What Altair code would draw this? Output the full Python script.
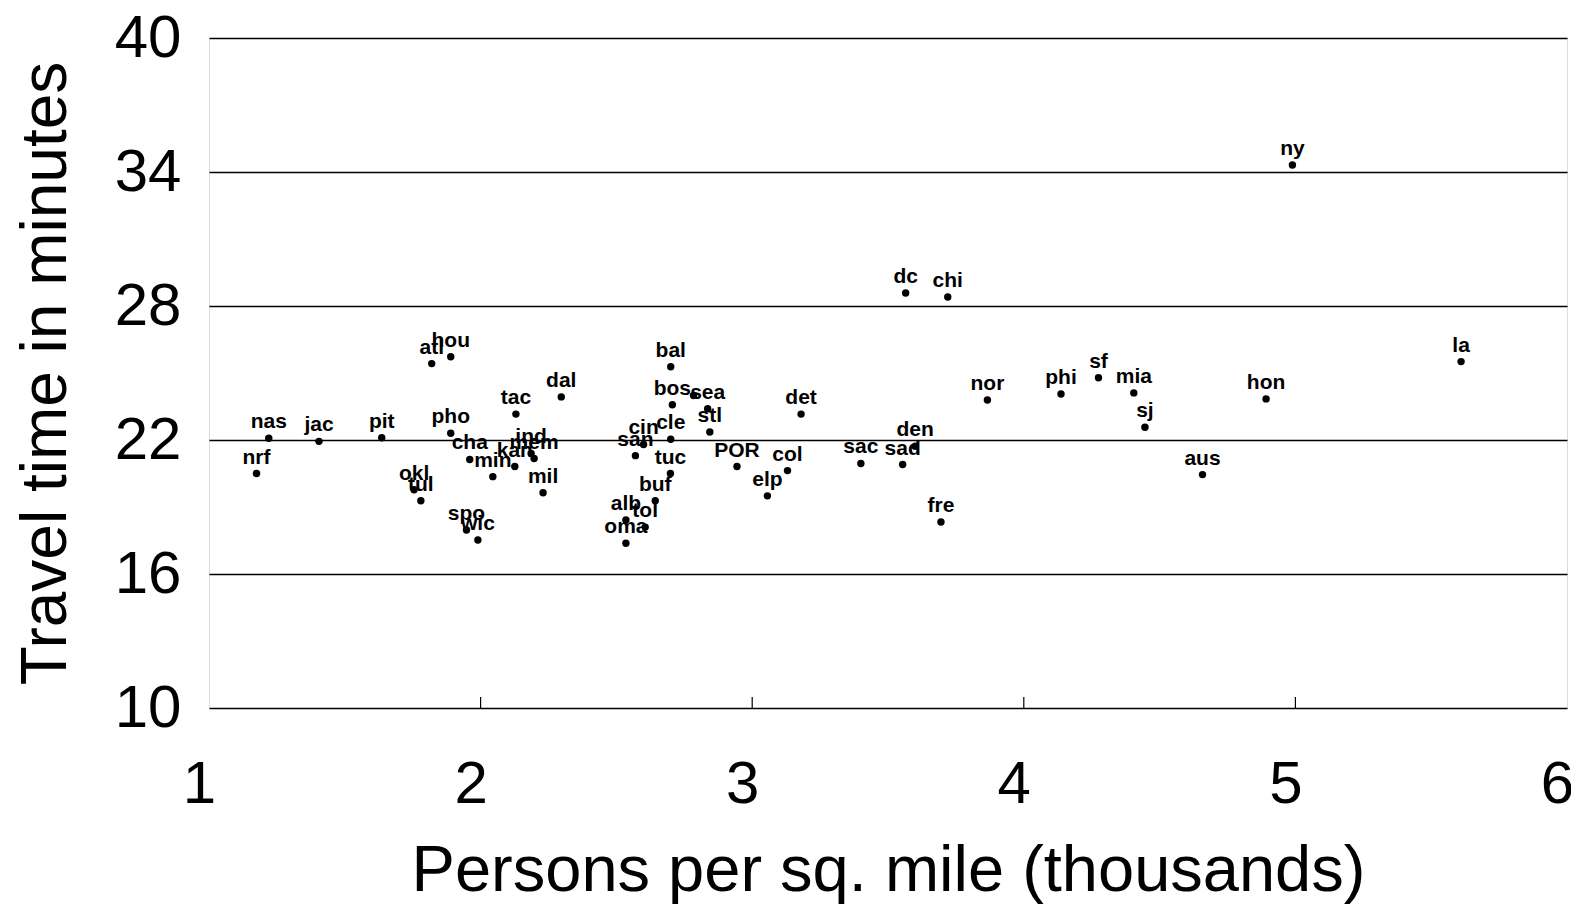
import altair as alt
import pandas as pd

cities = ["nrf", "nas", "jac", "pit", "atl", "hou", "pho", "okl", "tul", "cha",
          "spo", "wic", "min", "tac", "dal", "mil", "ind", "mem", "kan", "san",
          "cin", "cle", "bal", "bos", "", "sea", "stl", "tuc", "buf", "alb",
          "tol", "oma", "POR", "col", "elp", "det", "dc", "chi", "sac", "sad",
          "den", "fre", "nor", "phi", "sf", "mia", "sj", "aus", "hon", "ny", "la"]
density = [1.175, 1.22, 1.405, 1.636, 1.82, 1.89, 1.89, 1.755, 1.78, 1.96,
           1.948, 1.99, 2.045, 2.13, 2.297, 2.23, 2.186, 2.197, 2.126, 2.57,
           2.6, 2.70, 2.70, 2.706, 2.784, 2.836, 2.844, 2.699, 2.643, 2.535,
           2.606, 2.535, 2.944, 3.13, 3.056, 3.18, 3.565, 3.72, 3.40, 3.554,
           3.6, 3.695, 3.866, 4.137, 4.275, 4.405, 4.446, 4.658, 4.892, 4.989, 5.61]
travel = [20.5, 22.08, 21.94, 22.1, 25.42, 25.73, 22.3, 19.77, 19.28, 21.13,
          17.97, 17.52, 20.36, 23.16, 23.93, 19.64, 21.4, 21.17, 20.81, 21.3,
          21.8, 22.03, 25.28, 23.58, 23.99, 23.4, 22.36, 20.5, 19.28, 18.42,
          18.1, 17.38, 20.81, 20.63, 19.5, 23.16, 28.58, 28.4, 20.95, 20.9,
          21.72, 18.33, 23.79, 24.06, 24.79, 24.11, 22.57, 20.45, 23.84, 34.31, 25.51]

x_ticks = [1, 2, 3, 4, 5, 6]
y_ticks = [10, 16, 22, 28, 34, 40]
inner_ticks = [2, 3, 4, 5]

df = pd.DataFrame({"city": cities, "density": density, "travel": travel})
tick_df = pd.DataFrame({"t": inner_ticks})

FONT = "Liberation Sans"
W, H = 1358, 670
xs = alt.Scale(domain=[1, 6], nice=False, zero=False)
ys = alt.Scale(domain=[10, 40], nice=False, zero=False)

base = alt.Chart(df)

points = base.mark_circle(size=55, color="black", opacity=1).encode(
    x=alt.X("density:Q", scale=xs, axis=alt.Axis(
        values=x_ticks, format="d", title="Persons per sq. mile (thousands)",
        grid=False, ticks=False, domain=False, labelFlush=False, labelOffset=-10,
        labelFont=FONT, labelFontSize=60, labelColor="black", labelPadding=47,
        titleFont=FONT, titleFontSize=65, titleFontWeight="normal", titleColor="black",
        titleY=162, titleBaseline="middle")),
    y=alt.Y("travel:Q", scale=ys, axis=alt.Axis(
        values=y_ticks, format="d", title="Travel time in minutes",
        grid=True, gridColor="black", gridWidth=1.5, gridOpacity=1,
        ticks=False, domain=False,
        labelFont=FONT, labelFontSize=60, labelColor="black", labelPadding=28,
        titleFont=FONT, titleFontSize=64, titleFontWeight="normal", titleColor="black",
        titleX=-163, titleBaseline="middle")),
)

labels = base.mark_text(font=FONT, fontSize=21, fontWeight="bold", color="black", dy=-16).encode(
    x=alt.X("density:Q", scale=xs),
    y=alt.Y("travel:Q", scale=ys),
    text="city:N",
)

ticks = alt.Chart(tick_df).mark_rule(color="black", strokeWidth=1.2).encode(
    x=alt.X("t:Q", scale=xs),
    y=alt.value(H - 11),
    y2=alt.value(H),
)

chart = alt.layer(ticks, points, labels).properties(
    width=W, height=H,
    autosize=alt.AutoSizeParams(type="none"),
    padding={"left": 201, "top": 30, "right": 4, "bottom": 196},
).configure_view(stroke="black", strokeWidth=1.5).configure(background="white")

chart.save("out.html", embed_options={"renderer": "svg", "actions": False})
